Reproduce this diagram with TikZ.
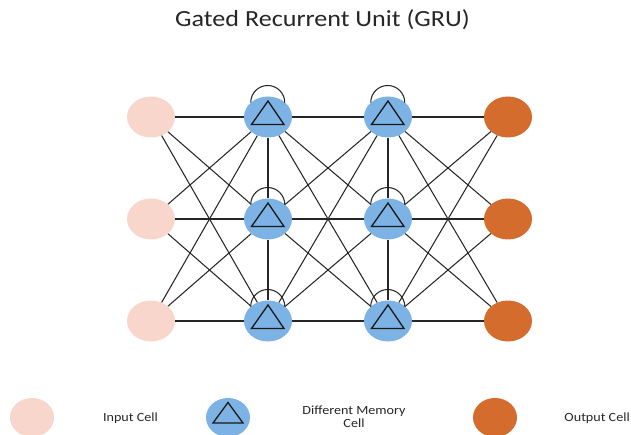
\documentclass[tikz,border=0pt]{standalone}
\usepackage{fontspec}
\setmainfont{Carlito}[FakeStretch=1.13]
\usetikzlibrary{shapes.geometric}
\definecolor{inpink}{RGB}{248,214,203}
\definecolor{memblue}{RGB}{125,178,228}
\definecolor{outorange}{RGB}{211,108,45}
\begin{document}
\begin{tikzpicture}[x=1pt,y=1pt,
  cell/.style={ellipse, minimum width=48pt, minimum height=41pt, inner sep=0pt},
  incell/.style={cell, fill=inpink},
  memcell/.style={cell, fill=memblue},
  outcell/.style={cell, fill=outorange},
  smallcell/.style={minimum width=44pt, minimum height=39pt},
  link/.style={draw=black!85, line width=1.05pt},
  tri/.style={draw=black!90, line width=1.3pt, line join=miter},
  legendtext/.style={font=\fontsize{12.5}{13}\selectfont, align=center, text=black!85},
  titletext/.style={font=\fontsize{23.1}{27}\selectfont, text=black!85},
]
\useasboundingbox (0,0) rectangle (631,434);

% title
\node[titletext, anchor=base] (title) at (322.5,407.3) {Gated Recurrent Unit (GRU)};

% cells: input, two memory columns, output
\foreach \r/\y in {1/317,2/215,3/113}{
  \node[incell]  (i\r) at (151,\y) {};
  \node[memcell] (a\r) at (268,\y) {};
  \node[memcell] (b\r) at (388,\y) {};
  \node[outcell] (o\r) at (508,\y) {};
}

% fully connected layers
\foreach \p in {1,2,3}{
  \foreach \q in {1,2,3}{
    \draw[link] (i\p) -- (a\q);
    \draw[link] (a\p) -- (b\q);
    \draw[link] (b\p) -- (o\q);
  }
}

% links inside each memory column
\foreach \p/\q in {1/2,2/3}{
  \draw[link] (a\p) -- (a\q);
  \draw[link] (b\p) -- (b\q);
}

% self loops and triangle marks on memory cells
\foreach \n in {a1,a2,a3,b1,b2,b3}{
  \draw[link] (\n.140) arc[start angle=180,end angle=0,radius=17];
  \draw[tri] ([yshift=16pt]\n.center) -- ([shift={(-16.5pt,-7.5pt)}]\n.center)
    -- ([shift={(16pt,-7.5pt)}]\n.center) -- cycle;
}

% legend
\node[incell, smallcell] (li) at (32,16.5) {};
\node[legendtext, anchor=base] (lit) at (130.5,12.3) {Input Cell};
\node[memcell, smallcell] (lm) at (228,16.5) {};
\draw[tri] ([yshift=15pt]lm.center) -- ([shift={(-15pt,-5.5pt)}]lm.center)
  -- ([shift={(15pt,-5.5pt)}]lm.center) -- cycle;
\node[legendtext] (lmt) at (354,17) {Different Memory\\Cell};
\node[outcell, smallcell] (lo) at (495,16.5) {};
\node[legendtext, anchor=base east, inner xsep=1pt] (lot) at (631,13) {Output Cell};
\end{tikzpicture}
\end{document}
